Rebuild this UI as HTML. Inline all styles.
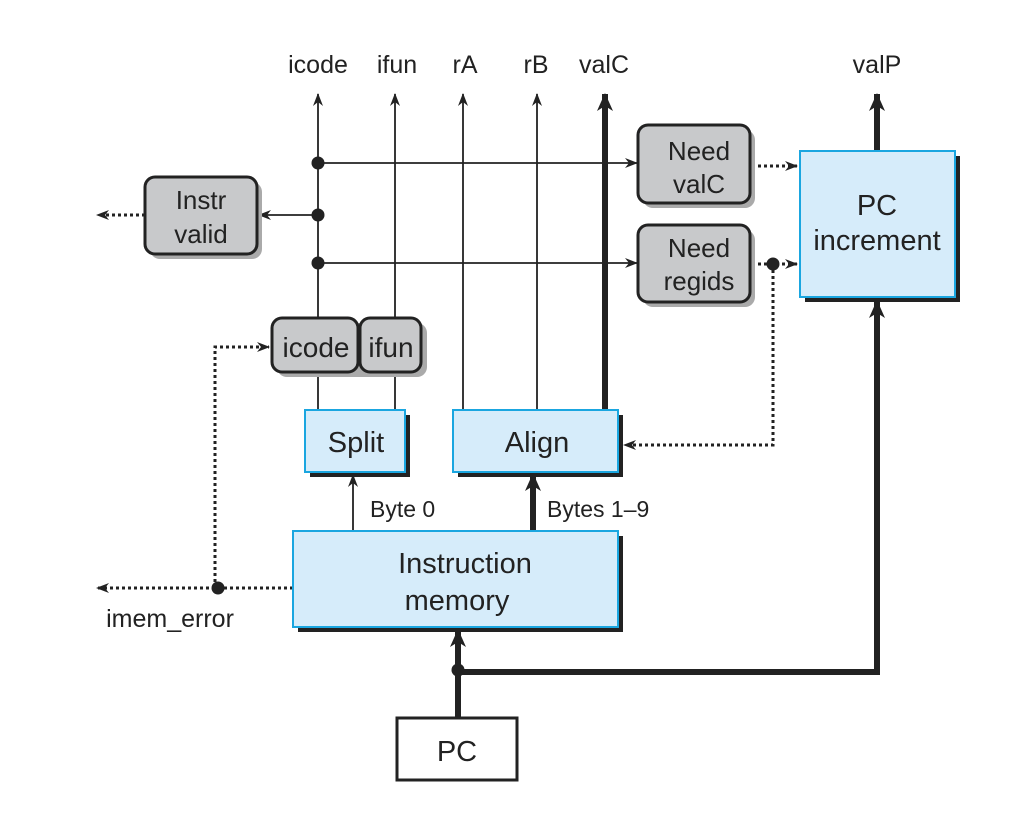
<!DOCTYPE html>
<html><head><style>body{margin:0;background:#fff}svg{display:block}text{font-family:"Liberation Sans",sans-serif;fill:#222}</style></head><body>
<svg width="1035" height="819" viewBox="0 0 1035 819" xmlns="http://www.w3.org/2000/svg">
<defs>
<marker id="a" markerWidth="13" markerHeight="10" refX="12" refY="5" orient="auto" markerUnits="userSpaceOnUse"><path d="M0,0 L13,5 L0,10 L4,5z" fill="#222"/></marker>
<marker id="b" markerWidth="18" markerHeight="16" refX="17" refY="8" orient="auto" markerUnits="userSpaceOnUse"><path d="M0,0 L18,8 L0,16 L5,8z" fill="#222"/></marker>
</defs>
<g stroke="#222" fill="none">
<line x1="318" y1="318" x2="318" y2="94" stroke-width="1.8" marker-end="url(#a)"/>
<line x1="395" y1="318" x2="395" y2="94" stroke-width="1.8" marker-end="url(#a)"/>
<line x1="463" y1="410" x2="463" y2="94" stroke-width="1.8" marker-end="url(#a)"/>
<line x1="537" y1="410" x2="537" y2="94" stroke-width="1.8" marker-end="url(#a)"/>
<line x1="605" y1="410" x2="605" y2="94" stroke-width="6" marker-end="url(#b)"/>
<line x1="877" y1="151" x2="877" y2="94" stroke-width="6" marker-end="url(#b)"/>
<line x1="318" y1="372" x2="318" y2="410" stroke-width="1.8"/>
<line x1="395" y1="372" x2="395" y2="410" stroke-width="1.8"/>
<line x1="318" y1="163" x2="637" y2="163" stroke-width="1.8" marker-end="url(#a)"/>
<line x1="318" y1="263" x2="637" y2="263" stroke-width="1.8" marker-end="url(#a)"/>
<line x1="318" y1="215" x2="259" y2="215" stroke-width="1.8" marker-end="url(#a)"/>
<g stroke-width="3" stroke-dasharray="3,3">
<line x1="145" y1="215" x2="97" y2="215" marker-end="url(#a)"/>
<line x1="752" y1="166" x2="797" y2="166" marker-end="url(#a)"/>
<line x1="752" y1="264" x2="797" y2="264" marker-end="url(#a)"/>
<polyline points="773,264 773,445 624,445" marker-end="url(#a)"/>
<polyline points="293,588 97,588" marker-end="url(#a)"/>
<polyline points="215,588 215,347 269,347" marker-end="url(#a)"/>
</g>
<line x1="353" y1="531" x2="353" y2="475" stroke-width="1.8" marker-end="url(#a)"/>
<line x1="533" y1="531" x2="533" y2="474" stroke-width="6" marker-end="url(#b)"/>
<line x1="458" y1="718" x2="458" y2="630" stroke-width="6" marker-end="url(#b)"/>
<polyline points="458,672 877,672 877,301" stroke-width="6" marker-end="url(#b)"/>
</g>
<g fill="#222"><circle cx="318" cy="163" r="6.5"/><circle cx="318" cy="215" r="6.5"/><circle cx="318" cy="263" r="6.5"/><circle cx="773" cy="264" r="6.5"/><circle cx="218" cy="588" r="6.5"/><circle cx="458" cy="670" r="6.5"/></g>
<g>
<rect x="150" y="182" width="112" height="77" rx="10" fill="#aaa"/>
<rect x="145" y="177" width="112" height="77" rx="10" fill="#c8c9cb" stroke="#222" stroke-width="3"/>
<rect x="643" y="130" width="112" height="78" rx="10" fill="#aaa"/>
<rect x="638" y="125" width="112" height="78" rx="10" fill="#c8c9cb" stroke="#222" stroke-width="3"/>
<rect x="643" y="230" width="112" height="77" rx="10" fill="#aaa"/>
<rect x="638" y="225" width="112" height="77" rx="10" fill="#c8c9cb" stroke="#222" stroke-width="3"/>
<rect x="277" y="323" width="150" height="54" rx="10" fill="#aaa"/>
<rect x="272" y="318" width="86" height="54" rx="10" fill="#c8c9cb" stroke="#222" stroke-width="3"/>
<rect x="360" y="318" width="61" height="54" rx="10" fill="#c8c9cb" stroke="#222" stroke-width="3"/>
</g>
<g>
<rect x="310" y="415" width="100" height="62" fill="#222"/>
<rect x="305" y="410" width="100" height="62" fill="#d6ecfa" stroke="#1aa6e0" stroke-width="2"/>
<rect x="458" y="415" width="165" height="62" fill="#222"/>
<rect x="453" y="410" width="165" height="62" fill="#d6ecfa" stroke="#1aa6e0" stroke-width="2"/>
<rect x="298" y="536" width="325" height="96" fill="#222"/>
<rect x="293" y="531" width="325" height="96" fill="#d6ecfa" stroke="#1aa6e0" stroke-width="2"/>
<rect x="805" y="156" width="155" height="146" fill="#222"/>
<rect x="800" y="151" width="155" height="146" fill="#d6ecfa" stroke="#1aa6e0" stroke-width="2"/>
<rect x="397" y="718" width="120" height="62" fill="#fff" stroke="#222" stroke-width="3"/>
</g>
<g font-size="25" text-anchor="middle">
<text x="318" y="73">icode</text><text x="397" y="73">ifun</text><text x="465" y="73">rA</text><text x="536" y="73">rB</text><text x="604" y="73">valC</text><text x="877" y="73">valP</text>
<text x="201" y="209" font-size="26">Instr</text><text x="201" y="243" font-size="26">valid</text>
<text x="699" y="160" font-size="26">Need</text><text x="699" y="193" font-size="26">valC</text>
<text x="699" y="257" font-size="26">Need</text><text x="699" y="290" font-size="26">regids</text>
<text x="316" y="357" font-size="28">icode</text><text x="391" y="357" font-size="28">ifun</text>
<text x="356" y="452" font-size="29">Split</text><text x="537" y="452" font-size="29">Align</text>
<text x="465" y="573" font-size="29">Instruction</text><text x="457" y="610" font-size="29">memory</text>
<text x="877" y="215" font-size="29">PC</text><text x="877" y="250" font-size="29">increment</text>
<text x="457" y="761" font-size="29">PC</text>
<text x="170" y="627">imem_error</text>
</g>
<g font-size="23"><text x="370" y="517">Byte 0</text><text x="547" y="517">Bytes 1–9</text></g>
</svg>
</body></html>
